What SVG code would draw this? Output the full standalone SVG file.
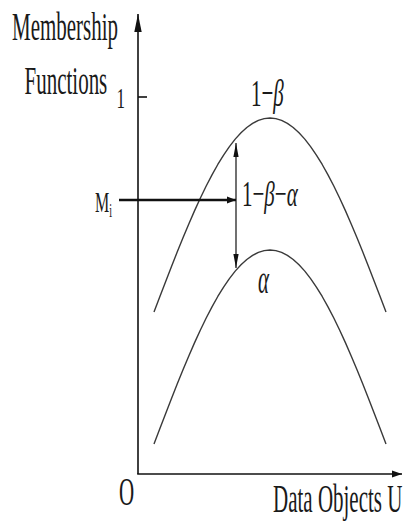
<svg xmlns="http://www.w3.org/2000/svg" xmlns:xlink="http://www.w3.org/1999/xlink" width="406" height="521" viewBox="0 0 406 521">
<style>
  .t { font-family: "Liberation Serif", "Times New Roman", serif; font-size: 21px; fill: #1a1a1a; }
  .it { font-style: italic; }
  .axis { stroke: #111; stroke-width: 1.6; fill: none; }
  .curve { stroke: #3a3a3a; stroke-width: 1.4; fill: none; stroke-linejoin: round; }
  .thin { stroke: #111; stroke-width: 1.2; fill: none; }
  .thick { stroke: #111; stroke-width: 2.4; fill: none; }
</style>
<defs>
  <path id="bell" d="M-116,194 L-110.2,178.78 L-104.4,163.65 L-98.6,148.71 L-92.8,134.05 L-87,119.76 L-81.2,105.93 L-75.4,92.64 L-69.6,79.97 L-63.8,68.01 L-58,56.82 L-52.2,46.48 L-46.4,37.05 L-40.6,28.59 L-34.8,21.14 L-29,14.77 L-23.2,9.49 L-17.4,5.36 L-11.6,2.39 L-5.8,0.6 L0,0 L5.8,0.6 L11.6,2.39 L17.4,5.36 L23.2,9.49 L29,14.77 L34.8,21.14 L40.6,28.59 L46.4,37.05 L52.2,46.48 L58,56.82 L63.8,68.01 L69.6,79.97 L75.4,92.64 L81.2,105.93 L87,119.76 L92.8,134.05 L98.6,148.71 L104.4,163.65 L110.2,178.78 L116,194"/>
  <marker id="hBig" markerUnits="userSpaceOnUse" markerWidth="20" markerHeight="8" refX="18" refY="4" orient="auto" viewBox="0 0 20 8">
    <path d="M0,0.3 L18,4 L0,7.7 Z" fill="#111"/>
  </marker>
  <marker id="hX" markerUnits="userSpaceOnUse" markerWidth="11" markerHeight="8" refX="10" refY="4" orient="auto" viewBox="0 0 11 8">
    <path d="M0,0.4 L10,4 L0,7.6 Z" fill="#111"/>
  </marker>
  <marker id="hMi" markerUnits="userSpaceOnUse" markerWidth="9" markerHeight="8" refX="9" refY="4" orient="auto" viewBox="0 0 9 8">
    <path d="M0,0.5 L9,4 L0,7.5 Z" fill="#111"/>
  </marker>
  <marker id="hSm" markerUnits="userSpaceOnUse" markerWidth="14" markerHeight="6" refX="14" refY="3" orient="auto-start-reverse" viewBox="0 0 14 6">
    <path d="M0,0.4 L14,3 L0,5.6 Z" fill="#111"/>
  </marker>
</defs>

<g id="axes">
  <path class="axis" d="M138,474 L138,14" marker-end="url(#hBig)"/>
  <path class="axis" d="M137.2,474 L402,474" stroke-width="2" marker-end="url(#hX)"/>
  <path class="axis" d="M138,97 L147,97" stroke-width="1.5"/>
</g>

<g id="curves">
  <use id="upper-curve" xlink:href="#bell" href="#bell" class="curve" transform="translate(270,118)"/>
  <use id="lower-curve" xlink:href="#bell" href="#bell" class="curve" transform="translate(270,250)"/>
</g>

<g id="connectors">
  <path id="mi-arrow" class="thick" d="M119,200 L236,200" marker-end="url(#hMi)"/>
  <path id="gap-arrow" class="thin" d="M236,143 L236,268" marker-start="url(#hSm)" marker-end="url(#hSm)"/>
</g>

<g id="labels">
  <text class="t" transform="translate(12,39.5) scale(1,1.92)">Membership</text>
  <text class="t" transform="translate(24.5,94) scale(1,1.92)">Functions</text>
  <text class="t" transform="translate(116.5,108) scale(1,1.75)" style="font-size:17px">1</text>
  <text class="t" transform="translate(251,106) scale(1,1.85)">1−<tspan class="it">β</tspan></text>
  <text class="t" transform="translate(242,206) scale(1,1.75)">1−<tspan class="it">β</tspan>−<tspan class="it">α</tspan></text>
  <text class="t it" transform="translate(258,293) scale(1,1.9)">α</text>
  <text class="t" transform="translate(95,212) scale(1,1.85)" style="font-size:16px">M<tspan dy="2.5" style="font-size:10px">i</tspan></text>
  <text class="t" transform="translate(119,505) scale(1,1.95)">O</text>
  <text class="t" transform="translate(273,511.5) scale(1,1.9)">Data Objects U</text>
</g>
</svg>
